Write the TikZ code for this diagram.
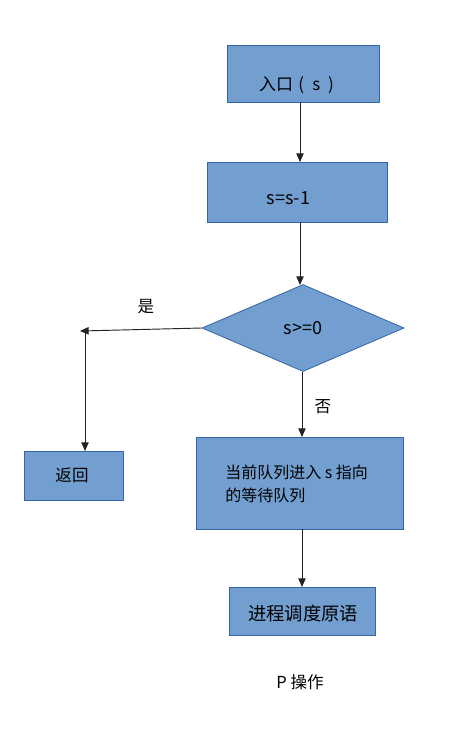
\documentclass[tikz,border=0pt]{standalone}
\usepackage{fontspec}
\setmainfont{Noto Sans CJK SC}
\usetikzlibrary{shapes.geometric,arrows.meta}
\definecolor{boxfill}{HTML}{729FCF}
\definecolor{boxline}{HTML}{3465A4}
\definecolor{lineclr}{HTML}{222222}
\begin{document}
\begin{tikzpicture}[x=0.75pt,y=-0.75pt,
  blk/.style={draw=boxline,fill=boxfill,line width=0.6pt,inner sep=0,anchor=north west},
  txt/.style={font=\fontsize{12.4pt}{17.25pt}\selectfont,text=black,inner sep=0},
  conn/.style={draw=lineclr,line width=0.7pt,-{Triangle[length=6.5pt,width=5.5pt]}},
  plain/.style={draw=lineclr,line width=0.7pt}]
\useasboundingbox (0,0) rectangle (460,736);
\fill[white] (0,0) rectangle (460,736);
% boxes
\node[blk,minimum width=152*0.75pt,minimum height=57*0.75pt] (entry) at (227,45) {};
\node[txt,font=\fontsize{12.75pt}{15pt}\selectfont] (entryt) at (296.5,85) {入口\hspace{0.3em}(\hspace{0.5em}s\hspace{0.45em})};
\node[blk,minimum width=180*0.75pt,minimum height=60*0.75pt] (dec) at (207,162) {};
\node[txt,font=\fontsize{13.5pt}{15pt}\selectfont] (dect) at (288.5,198) {s=s-1};
\node[diamond,draw=boxline,fill=boxfill,line width=0.6pt,inner sep=0,aspect=2.32,
  minimum width=202*0.75pt,minimum height=87*0.75pt] (test) at (303,328) {};
\node[txt,font=\fontsize{13.5pt}{15pt}\selectfont] (testt) at (303,328) {s>=0};
\node[blk,minimum width=99*0.75pt,minimum height=49*0.75pt] (ret) at (24,451) {};
\node[txt] (rett) at (72,475) {返回};
\node[blk,minimum width=207*0.75pt,minimum height=92*0.75pt] (queue) at (196,437) {};
\node[txt,anchor=west,align=left,font=\fontsize{12pt}{17.25pt}\selectfont] (queuet) at (225,483.5) {当前队列进入 s 指向\\的等待队列};
\node[blk,minimum width=146*0.75pt,minimum height=48*0.75pt] (sched) at (229,587) {};
\node[txt,font=\fontsize{13.75pt}{15pt}\selectfont] (schedt) at (303,613) {进程调度原语};
\node[txt] (title) at (300,682) {P 操作};
\node[txt] (yes) at (146,307) {是};
\node[txt] (no) at (323,407) {否};
% connectors
\coordinate (c1) at (300,102);
\coordinate (c2) at (300,162);
\coordinate (c3) at (300,222);
\coordinate (c4) at (300,285);
\coordinate (c5) at (302,372);
\coordinate (c6) at (302,437);
\coordinate (c7) at (302,529);
\coordinate (c8) at (302,587);
\coordinate (left) at (80,331);
\coordinate (vtop) at (85,331);
\coordinate (vbot) at (85,451);
\draw[conn] (c1) -- (c2);
\draw[conn] (c3) -- (c4);
\draw[conn] (test.west) -- (left);
\draw[conn] (vtop) -- (vbot);
\draw[conn] (c5) -- (c6);
\draw[conn] (c7) -- (c8);
\end{tikzpicture}
\end{document}
